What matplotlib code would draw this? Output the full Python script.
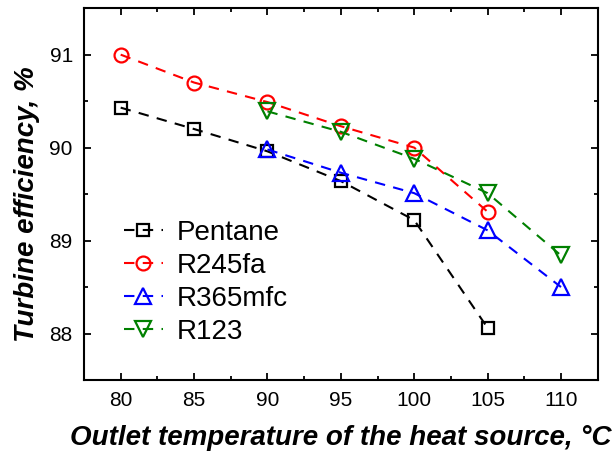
import matplotlib
matplotlib.use("Agg")
import matplotlib.pyplot as plt
from matplotlib.ticker import MultipleLocator

plt.rcParams.update({"font.family": "Liberation Sans", "font.size": 14})

temps_a = [80, 85, 90, 95, 100, 105]
temps_b = [90, 95, 100, 105, 110]

pentane = [90.43, 90.20, 89.96, 89.64, 89.22, 88.06]
r245fa = [91.00, 90.70, 90.49, 90.23, 90.00, 89.31]
r365mfc = [89.98, 89.73, 89.51, 89.11, 88.50]
r123 = [90.39, 90.17, 89.88, 89.51, 88.84]

fig = plt.figure(figsize=(6.13, 4.54), dpi=100)
ax = fig.add_axes([0.137, 0.163, 0.838, 0.819])

style = dict(ls="--", lw=1.5, mfc="none", mew=1.6, dashes=(5, 4))
ax.plot(temps_a, pentane, marker="s", ms=8, color="black", label="Pentane", **style)
ax.plot(temps_a, r245fa, marker="o", ms=10, color="red", label="R245fa", **style)
ax.plot(temps_b, r365mfc, marker="^", ms=11, color="blue", label="R365mfc", **style)
ax.plot(temps_b, r123, marker="v", ms=11, color="green", label="R123", **style)

ax.set_xlim(77.5, 112.5)
ax.set_ylim(87.5, 91.5)
ax.xaxis.set_major_locator(MultipleLocator(5))
ax.xaxis.set_minor_locator(MultipleLocator(2.5))
ax.yaxis.set_major_locator(MultipleLocator(1))
ax.yaxis.set_minor_locator(MultipleLocator(0.5))
ax.tick_params(which="both", direction="in", top=True, right=True, width=1.3)
ax.tick_params(which="major", length=5, labelsize=15, pad=8)
ax.tick_params(which="minor", length=3)
for sp in ax.spines.values():
    sp.set_linewidth(1.5)

ax.set_xlabel("Outlet temperature of the heat source, °C", fontsize=20,
              fontweight="bold", fontstyle="italic")
ax.set_ylabel("Turbine efficiency, %", fontsize=20,
              fontweight="bold", fontstyle="italic")
ax.xaxis.set_label_coords(0.5, -0.12)
ax.yaxis.set_label_coords(-0.086, 0.473)

leg = ax.legend(loc="lower left", bbox_to_anchor=(0.04, 0.042), frameon=False,
                fontsize=20, handlelength=1.4, handletextpad=0.5, labelspacing=0.25,
                borderpad=0.2, markerscale=1.0)

fig.savefig("out.png", dpi=100)
